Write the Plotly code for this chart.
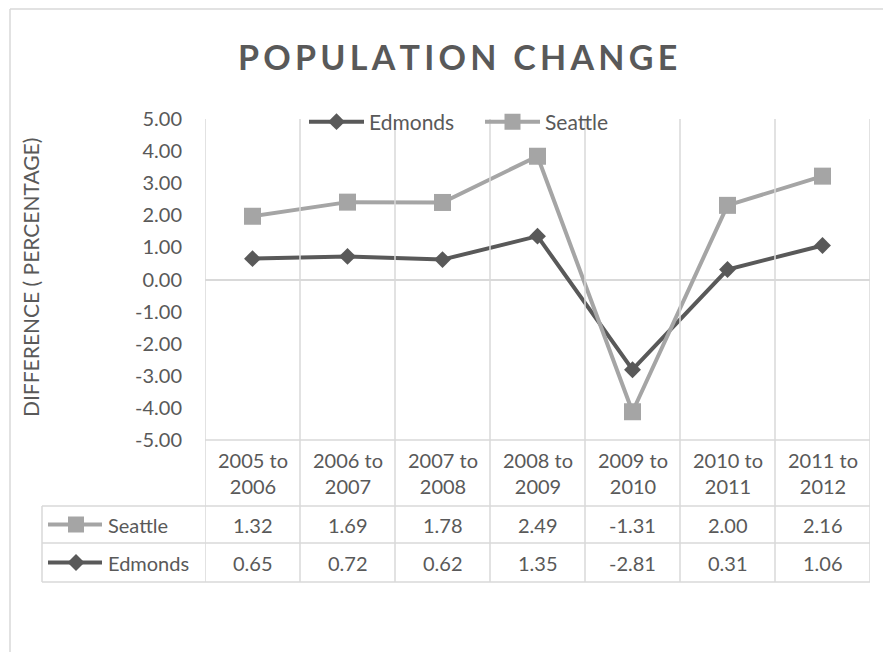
import plotly.graph_objects as go

categories = ["2005 to 2006", "2006 to 2007", "2007 to 2008", "2008 to 2009",
              "2009 to 2010", "2010 to 2011", "2011 to 2012"]
edmonds = [0.65, 0.72, 0.62, 1.35, -2.81, 0.31, 1.06]
seattle = [1.32, 1.69, 1.78, 2.49, -1.31, 2.00, 2.16]
y_ticks = [-5, -4, -3, -2, -1, 0, 1, 2, 3, 4, 5]

W, H = 891, 652
OFF = 8  # page body margin
TXT = "#595959"
GRID = "#d9d9d9"
C_ED = "#595959"
C_SE = "#a5a5a5"
FONT = "Lato"


def px(x):
    return (x - OFF) / W


def py(y):
    return 1 - (y - OFF) / H


PL, PR, PT, PB = 205, 870, 119, 440
ROW1, ROW2, ROW3 = 506, 543, 582
TL = 42

fig = go.Figure()
fig.add_trace(go.Scatter(
    x=categories, y=edmonds, name="Edmonds", mode="lines+markers",
    stackgroup="one", fill="none",
    line=dict(color=C_ED, width=4),
    marker=dict(symbol="diamond", size=13, color=C_ED),
))
fig.add_trace(go.Scatter(
    x=categories, y=seattle, name="Seattle", mode="lines+markers",
    stackgroup="one", fill="none",
    line=dict(color=C_SE, width=4),
    marker=dict(symbol="square", size=17, color=C_SE),
))

shapes = []
for i in range(len(categories) + 1):
    shapes.append(dict(type="line", xref="x", yref="paper",
                       x0=i - 0.5, x1=i - 0.5, y0=py(ROW3), y1=py(PT),
                       line=dict(color=GRID, width=1.5)))
shapes.append(dict(type="line", xref="paper", yref="paper",
                   x0=px(PL), x1=px(PR), y0=py(PB), y1=py(PB),
                   line=dict(color=GRID, width=1.5)))
for yy in (ROW1, ROW2, ROW3):
    shapes.append(dict(type="line", xref="paper", yref="paper",
                       x0=px(TL), x1=px(PR), y0=py(yy), y1=py(yy),
                       line=dict(color=GRID, width=1.5)))
shapes.append(dict(type="line", xref="paper", yref="paper",
                   x0=px(TL), x1=px(TL), y0=py(ROW3), y1=py(ROW1),
                   line=dict(color=GRID, width=1.5)))
# outer chart border (left and top)
shapes.append(dict(type="line", xref="paper", yref="paper",
                   x0=px(10), x1=px(10), y0=0, y1=py(9),
                   line=dict(color=GRID, width=1.5)))
shapes.append(dict(type="line", xref="paper", yref="paper",
                   x0=px(10), x1=1, y0=py(9), y1=py(9),
                   line=dict(color=GRID, width=1.5)))

row_y = {"Seattle": (ROW1 + ROW2) / 2, "Edmonds": (ROW2 + ROW3) / 2}
for name, col in (("Seattle", C_SE), ("Edmonds", C_ED)):
    yc = row_y[name]
    shapes.append(dict(type="line", xref="paper", yref="paper",
                       x0=px(48), x1=px(102), y0=py(yc), y1=py(yc),
                       line=dict(color=col, width=4)))
    cx = 76
    if name == "Seattle":
        h = 8
        path = (f"M {px(cx-h)},{py(yc-h)} L {px(cx+h)},{py(yc-h)} "
                f"L {px(cx+h)},{py(yc+h)} L {px(cx-h)},{py(yc+h)} Z")
    else:
        h = 8.5
        path = (f"M {px(cx)},{py(yc-h)} L {px(cx+h)},{py(yc)} "
                f"L {px(cx)},{py(yc+h)} L {px(cx-h)},{py(yc)} Z")
    shapes.append(dict(type="path", xref="paper", yref="paper", path=path,
                       fillcolor=col, line=dict(color=col, width=0)))

annotations = []
title = "POPULATION CHANGE"
spaced = "\u200a\u200a".join(list(title))
annotations.append(dict(text=spaced, xref="paper", yref="paper",
                        x=px(457), y=py(56), showarrow=False,
                        xanchor="center", yanchor="middle",
                        font=dict(family=FONT, size=34, color=TXT, weight="bold")))
annotations.append(dict(text="DIFFERENCE ( PERCENTAGE)", xref="paper", yref="paper",
                        x=px(30), y=py(278), showarrow=False, textangle=-90,
                        xanchor="center", yanchor="middle",
                        font=dict(family=FONT, size=21, color=TXT)))
for c in categories:
    a, b = c.split(" to ")
    annotations.append(dict(text=f"{a} to<br>{b}", xref="x", yref="paper",
                            x=c, y=py((PB + ROW1) / 2), showarrow=False,
                            xanchor="center", yanchor="middle",
                            font=dict(family=FONT, size=20, color=TXT)))
for name, vals in (("Seattle", seattle), ("Edmonds", edmonds)):
    yc = row_y[name]
    annotations.append(dict(text=name, xref="paper", yref="paper",
                            x=px(106), y=py(yc), showarrow=False,
                            xanchor="left", yanchor="middle",
                            font=dict(family=FONT, size=20, color=TXT)))
    for c, v in zip(categories, vals):
        annotations.append(dict(text=f"{v:.2f}", xref="x", yref="paper",
                                x=c, y=py(yc), showarrow=False,
                                xanchor="center", yanchor="middle",
                                font=dict(family=FONT, size=20, color=TXT)))

fig.update_layout(
    width=W, height=H, autosize=False,
    margin=dict(l=0, r=0, t=0, b=0, pad=0, autoexpand=False),
    paper_bgcolor="white", plot_bgcolor="white",
    font=dict(family=FONT, size=20, color=TXT),
    showlegend=True,
    legend=dict(orientation="h", x=px(304), y=py(122), xanchor="left",
                yanchor="middle", bgcolor="rgba(0,0,0,0)", traceorder="normal",
                font=dict(family=FONT, size=21, color=TXT),
                itemwidth=55, entrywidth=106, entrywidthmode="pixels"),
    xaxis=dict(type="category", range=[-0.5, len(categories) - 0.5],
               domain=[px(PL), px(PR)], showticklabels=False, showgrid=False,
               zeroline=False, showline=False, ticks="", automargin=False),
    yaxis=dict(range=[-5, 5], domain=[py(PB), py(PT)], tickvals=y_ticks,
               ticktext=[f"{v:.2f}" for v in y_ticks],
               showgrid=False, zeroline=True, automargin=False,
               zerolinecolor=GRID, zerolinewidth=1.5, showline=False, ticks="",
               ticklabelstandoff=22,
               tickfont=dict(family=FONT, size=20, color=TXT)),
    shapes=shapes,
    annotations=annotations,
)

fig.write_html("out.html")
